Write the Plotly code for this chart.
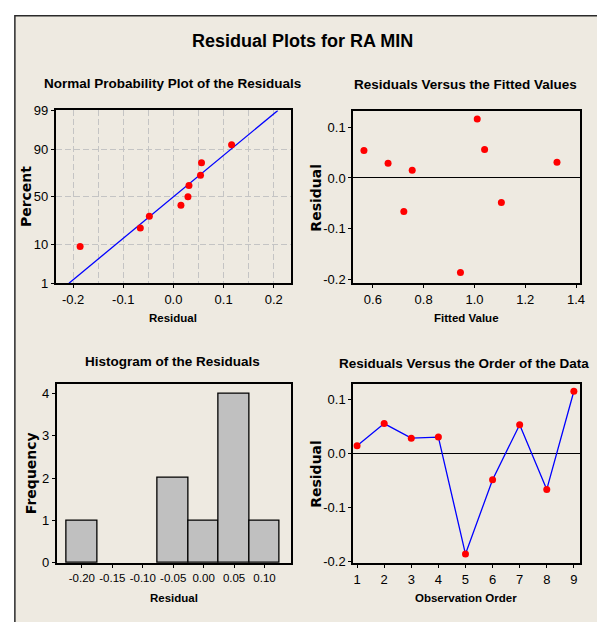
import plotly.graph_objects as go
from statistics import NormalDist

W, H = 597, 622

# ---------------- data ----------------
observation = [1, 2, 3, 4, 5, 6, 7, 8, 9]
residuals = [0.015, 0.056, 0.029, 0.031, -0.186, -0.048, 0.054, -0.066, 0.116]
fitted = [0.755, 1.040, 0.660, 1.325, 0.945, 1.106, 0.565, 0.722, 1.011]
# plotted percent for each residual after sorting ascending
prob_percent = [9, 20, 30, 41, 50, 62, 72, 82, 92]
fit_mean = 0.0
fit_sd = 0.0895

pct_ticks = [1, 10, 50, 90, 99]
pct_ticktext = ["1", "10", "50", "90", "99"]
npp_xticks = [-0.2, -0.1, 0.0, 0.1, 0.2]
npp_xticktext = ["-0.2", "-0.1", "0.0", "0.1", "0.2"]
npp_xminor = [-0.15, -0.05, 0.05, 0.15]
fit_xticks = [0.6, 0.8, 1.0, 1.2, 1.4]
fit_xticktext = ["0.6", "0.8", "1.0", "1.2", "1.4"]
res_yticks = [-0.2, -0.1, 0.0, 0.1]
res_yticktext = ["-0.2", "-0.1", "0.0", "0.1"]
hist_xticks = [-0.20, -0.15, -0.10, -0.05, 0.00, 0.05, 0.10]
hist_xticktext = ["-0.20", "-0.15", "-0.10", "-0.05", "0.00", "0.05", "0.10"]
hist_yticks = [0, 1, 2, 3, 4]
order_xticks = [1, 2, 3, 4, 5, 6, 7, 8, 9]

main_title = "Residual Plots for RA MIN"
sub_titles = ["Normal Probability Plot of the Residuals",
              "Residuals Versus the Fitted Values",
              "Histogram of the Residuals",
              "Residuals Versus the Order of the Data"]

# ---------------- styling ----------------
NARROW = "Liberation Sans, Arial, sans-serif"
WIDE = "DejaVu Sans, Verdana, sans-serif"
BEIGE = "#EEEAE1"
RED = "#FF0000"
BLUE = "#0000FF"
GRID = "#C4C4C4"
DASH = "6px,3px"

nd = NormalDist()
z = lambda p: nd.inv_cdf(p / 100.0)

def xd(a, b):
    return [a / W, b / W]

def yd(top, bottom):
    return [1 - bottom / H, 1 - top / H]

def base_axis(size=13, **kw):
    d = dict(showline=True, linecolor="black", linewidth=1.5, mirror=True,
             ticks="outside", ticklen=3, tickcolor="black", tickwidth=1,
             tickfont=dict(family=NARROW, size=size, color="black"),
             showgrid=False, zeroline=False, tickangle=0)
    d.update(kw)
    return d

fig = go.Figure()

# 1. Normal probability plot
sorted_res = sorted(residuals)
zlo, zhi = z(1), z(99)
fig.add_trace(go.Scatter(x=[fit_mean + fit_sd * zlo, fit_mean + fit_sd * zhi], y=[zlo, zhi],
                         mode="lines", line=dict(color=BLUE, width=1.3),
                         xaxis="x", yaxis="y", showlegend=False, hoverinfo="skip"))
fig.add_trace(go.Scatter(x=sorted_res, y=[z(p) for p in prob_percent], mode="markers",
                         marker=dict(color=RED, size=7), xaxis="x", yaxis="y", showlegend=False))

# 2. Residuals vs fitted
fig.add_trace(go.Scatter(x=fitted, y=residuals, mode="markers",
                         marker=dict(color=RED, size=7), xaxis="x2", yaxis="y2", showlegend=False))

# 3. Histogram
fig.add_trace(go.Histogram(x=residuals, xbins=dict(start=-0.225, end=0.125, size=0.05),
                           marker=dict(color="#C0C0C0", line=dict(color="black", width=1.3)),
                           xaxis="x3", yaxis="y3", showlegend=False))

# 4. Residuals vs order
fig.add_trace(go.Scatter(x=observation, y=residuals, mode="lines+markers",
                         line=dict(color=BLUE, width=1.3),
                         marker=dict(color=RED, size=7), xaxis="x4", yaxis="y4", showlegend=False))

layout = dict(
    width=W, height=H, autosize=False,
    margin=dict(l=0, r=0, t=0, b=0),
    paper_bgcolor="white", plot_bgcolor="white",
    bargap=0, showlegend=False,
    xaxis=base_axis(domain=xd(56, 293), anchor="y", range=[-0.235, 0.2335],
                    tickvals=npp_xticks, ticktext=npp_xticktext,
                    showgrid=True, gridcolor=GRID, griddash=DASH, gridwidth=1.3,
                    minor=dict(tickvals=npp_xminor, showgrid=True, gridcolor=GRID,
                               griddash=DASH, gridwidth=1.3, ticks="")),
    yaxis=base_axis(domain=yd(106, 283), anchor="x", range=[zlo, zhi],
                    tickvals=[z(p) for p in pct_ticks], ticktext=pct_ticktext,
                    showgrid=True, gridcolor=GRID, griddash=DASH, gridwidth=1.3),
    xaxis2=base_axis(domain=xd(356, 585), anchor="y2", range=[0.522, 1.416],
                     tickvals=fit_xticks, ticktext=fit_xticktext),
    yaxis2=base_axis(domain=yd(107, 283), anchor="x2", range=[-0.207, 0.131],
                     tickvals=res_yticks, ticktext=res_yticktext,
                     zeroline=True, zerolinecolor="black", zerolinewidth=1.2),
    xaxis3=base_axis(size=11.5, domain=xd(57, 293), anchor="y3", range=[-0.2417, 0.1428],
                     tickvals=hist_xticks, ticktext=hist_xticktext),
    yaxis3=base_axis(domain=yd(386, 570), anchor="x3", range=[-0.015, 4.23],
                     tickvals=hist_yticks),
    xaxis4=base_axis(domain=xd(356, 585), anchor="y4", range=[0.85, 9.23],
                     tickvals=order_xticks),
    yaxis4=base_axis(domain=yd(386, 570), anchor="x4", range=[-0.203, 0.130],
                     tickvals=res_yticks, ticktext=res_yticktext,
                     zeroline=True, zerolinecolor="black", zerolinewidth=1.2),
    shapes=[dict(type="rect", xref="paper", yref="paper",
                 x0=15 / W, x1=1.05, y0=-0.05, y1=1 - 9 / H,
                 fillcolor=BEIGE, line=dict(color="#2a2a2a", width=1.5), layer="below")],
)
fig.update_layout(**layout)

def ann(text, x, y, size, family=NARROW, angle=0):
    fig.add_annotation(text=text, x=x / W, y=1 - y / H, xref="paper", yref="paper",
                       showarrow=False, textangle=angle, xanchor="center", yanchor="middle",
                       font=dict(family=family, size=size, color="black"))

ann("<b>%s</b>" % main_title, 305, 35, 18)
ann("<b>%s</b>" % sub_titles[0], 174, 78, 13.5)
ann("<b>%s</b>" % sub_titles[1], 469, 79, 13.5)
ann("<b>%s</b>" % sub_titles[2], 174, 363, 13.5)
ann("<b>%s</b>" % sub_titles[3], 468, 365, 13.5)

ann("<b>Residual</b>", 174, 319, 11.5)
ann("<b>Fitted Value</b>", 470, 319, 11.5)
ann("<b>Residual</b>", 175, 606, 11.5)
ann("<b>Observation Order</b>", 470, 606, 11.5)

ann("<b>Percent</b>", 27, 194, 14, WIDE, -90)
ann("<b>Residual</b>", 319, 195, 14, WIDE, -90)
ann("<b>Frequency</b>", 32, 478, 14, WIDE, -90)
ann("<b>Residual</b>", 319, 478, 14, WIDE, -90)

fig.write_html("out.html", config={"displayModeBar": False}, post_script=(
    "document.body.style.margin='0';document.body.style.padding='0';"
    "document.documentElement.style.overflow='hidden';document.body.style.overflow='hidden';"))
